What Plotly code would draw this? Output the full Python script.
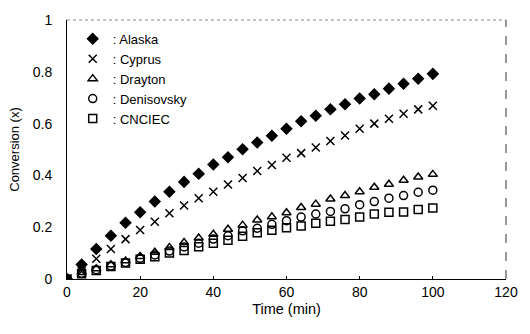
import plotly.graph_objects as go

time_min = [0, 4, 8, 12, 16, 20, 24, 28, 32, 36, 40, 44, 48, 52, 56, 60, 64, 68, 72, 76, 80, 84, 88, 92, 96, 100]

alaska = [0, 0.056, 0.116, 0.167, 0.217, 0.258, 0.299, 0.337, 0.375, 0.406, 0.442, 0.470, 0.501,
          0.527, 0.553, 0.580, 0.609, 0.630, 0.655, 0.675, 0.697, 0.713, 0.735, 0.754, 0.773, 0.792]
cyprus = [0, 0.030, 0.078, 0.116, 0.154, 0.189, 0.221, 0.254, 0.284, 0.312, 0.337, 0.365, 0.390,
          0.417, 0.440, 0.468, 0.486, 0.508, 0.533, 0.554, 0.580, 0.600, 0.619, 0.638, 0.655, 0.669]
drayton = [0, 0.025, 0.040, 0.055, 0.070, 0.087, 0.103, 0.122, 0.141, 0.158, 0.173, 0.192, 0.208,
           0.228, 0.240, 0.256, 0.276, 0.289, 0.309, 0.322, 0.337, 0.354, 0.366, 0.381, 0.394, 0.404]
denisovsky = [0, 0.022, 0.036, 0.050, 0.064, 0.080, 0.093, 0.108, 0.124, 0.138, 0.154, 0.167, 0.186,
              0.196, 0.211, 0.225, 0.239, 0.251, 0.261, 0.271, 0.287, 0.299, 0.312, 0.322, 0.335, 0.343]
cnciec = [0, 0.020, 0.033, 0.048, 0.062, 0.076, 0.086, 0.100, 0.110, 0.125, 0.138, 0.150, 0.165,
          0.179, 0.188, 0.198, 0.205, 0.215, 0.223, 0.230, 0.239, 0.251, 0.258, 0.259, 0.268, 0.274]

series_names = ["Alaska", "Cyprus", "Drayton", "Denisovsky", "CNCIEC"]
series_values = [alaska, cyprus, drayton, denisovsky, cnciec]
symbols = ["diamond", "x-thin-open", "triangle-up-open", "circle-open", "square-open"]
sizes = [8, 8, 8, 8, 8]

x_ticks = [0, 20, 40, 60, 80, 100, 120]
y_ticks = [0, 0.2, 0.4, 0.6, 0.8, 1]
y_tick_labels = ["0", "0.2", "0.4", "0.6", "0.8", "1"]

fig = go.Figure()
for name, vals, sym, sz in zip(series_names, series_values, symbols, sizes):
    fig.add_trace(go.Scatter(
        x=time_min, y=vals, mode="markers", name=": " + name,
        marker=dict(symbol=sym, size=sz, color="black",
                    line=dict(color="black", width=1.5)),
    ))

font = "Liberation Sans, Arial, sans-serif"
fig.update_layout(
    width=530, height=334,
    margin=dict(l=67, r=17, t=15, b=55),
    paper_bgcolor="white", plot_bgcolor="white",
    font=dict(family=font, size=14, color="black"),
    showlegend=True,
    legend=dict(x=0.013, y=0.985, xanchor="left", yanchor="top",
                bgcolor="rgba(0,0,0,0)", font=dict(size=13),
                itemwidth=30, tracegroupgap=0),
    xaxis=dict(range=[0, 120], tickvals=x_ticks, showgrid=False, zeroline=False,
               showline=True, linecolor="black", linewidth=1, mirror=False,
               ticks="inside", ticklen=3, tickcolor="black",
               tickfont=dict(size=14),
               title=dict(text="Time (min)", font=dict(size=14.5), standoff=5)),
    yaxis=dict(range=[0, 1], tickvals=y_ticks, ticktext=y_tick_labels, showgrid=False,
               zeroline=False, showline=True, linecolor="black", linewidth=1, mirror=False,
               ticks="", tickfont=dict(size=14), ticklabelstandoff=11,
               title=dict(text="Conversion (x)", font=dict(size=13), standoff=10)),
    shapes=[
        dict(type="line", xref="paper", yref="paper", x0=0, x1=1, y0=1, y1=1,
             line=dict(color="#888888", width=1, dash="dot")),
        dict(type="line", xref="paper", yref="paper", x0=1, x1=1, y0=0, y1=1,
             line=dict(color="#333333", width=1, dash="dash")),
    ],
)

fig.write_html("out.html")
